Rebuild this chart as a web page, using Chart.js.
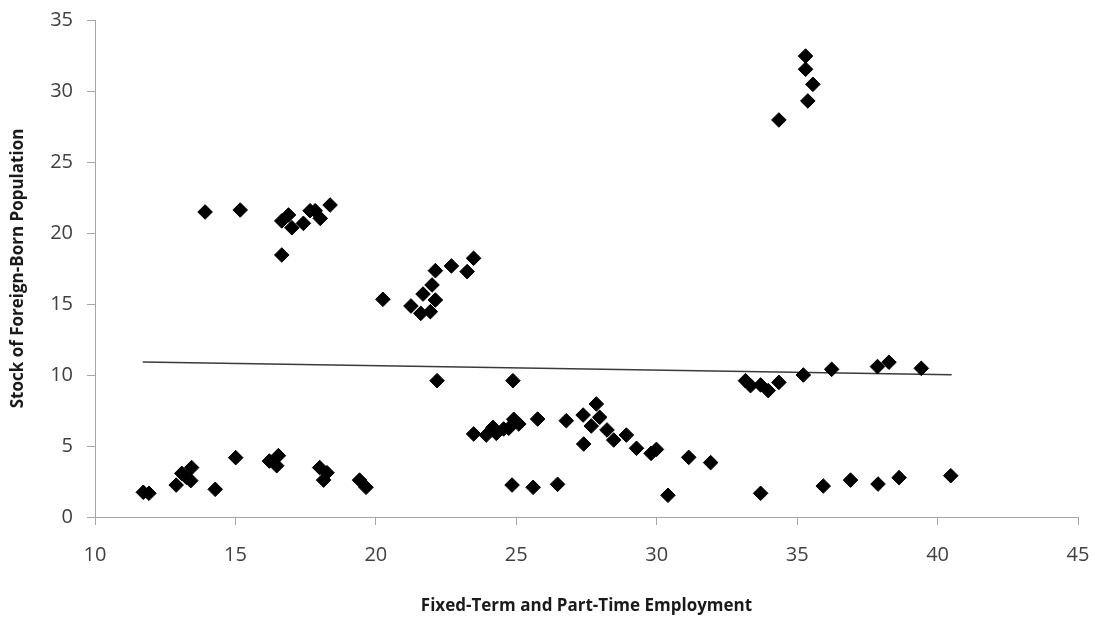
<!DOCTYPE html>
<html>
<head>
<meta charset="utf-8">
<script src="https://cdn.jsdelivr.net/npm/chart.js@4/dist/chart.umd.min.js"></script>
<style>
html,body{margin:0;padding:0;background:#fff;}
#wrap{width:1095px;height:619px;position:relative;}
</style>
</head>
<body>
<div id="wrap"><canvas id="c" width="1095" height="619"></canvas></div>
<script>
const xValues = [
  11.72,11.92,12.89,13.09,13.25,13.44,13.41,14.28,15.01,16.21,16.53,16.47,18.0,18.26,18.14,19.42,19.65,
  13.92,15.17,16.65,16.89,17.01,17.42,17.66,17.84,18.02,18.37,16.65,
  20.25,21.25,21.6,21.94,22.12,21.68,22.0,22.12,22.69,23.25,23.48,
  22.18,24.88,
  23.48,23.93,24.17,24.29,24.55,24.73,24.91,25.09,25.76,26.78,27.38,27.85,27.97,27.67,28.23,28.47,28.92,29.28,29.8,29.99,27.4,31.14,31.92,
  24.85,25.6,26.47,30.4,33.7,
  33.16,33.34,33.7,33.97,34.35,35.22,36.23,37.86,38.27,39.42,
  35.93,36.9,37.88,38.63,40.47,
  35.3,35.3,35.56,35.38,34.35
];
const yValues = [
  1.74,1.67,2.25,3.07,2.8,3.48,2.56,1.95,4.18,3.94,4.32,3.61,3.48,3.12,2.6,2.6,2.09,
  21.48,21.62,20.85,21.27,20.37,20.68,21.57,21.57,21.03,21.97,18.45,
  15.33,14.86,14.34,14.46,15.28,15.7,16.34,17.35,17.68,17.28,18.22,
  9.6,9.6,
  5.85,5.77,6.31,5.89,6.2,6.25,6.88,6.55,6.9,6.78,7.18,7.96,7.02,6.41,6.13,5.42,5.77,4.84,4.48,4.76,5.14,4.2,3.83,
  2.25,2.09,2.3,1.53,1.67,
  9.6,9.25,9.3,8.9,9.48,10.0,10.4,10.59,10.9,10.47,
  2.18,2.6,2.32,2.77,2.91,
  32.46,31.53,30.47,29.3,27.96
];
const trendX = [11.7, 40.5];
const trendY = [10.92, 10.02];
const xTicks = [10,15,20,25,30,35,40,45];
const yTicks = [0,5,10,15,20,25,30,35];
const xTitle = 'Fixed-Term and Part-Time Employment';
const yTitle = 'Stock of Foreign-Born Population';

const points = xValues.map((x,i)=>({x:x,y:yValues[i]}));
const trend = trendX.map((x,i)=>({x:x,y:trendY[i]}));

const axisColor = '#a6a6a6';
const tickFont = {family:'"Open Sans", sans-serif', size:20};
const titleFont = {family:'"Open Sans", sans-serif', size:17, weight:'bold'};

new Chart(document.getElementById('c'), {
  type: 'scatter',
  data: {
    datasets: [
      {
        type:'line',
        data: trend,
        borderColor:'#3a3a3a',
        borderWidth:1.5,
        pointRadius:0,
        fill:false,
        order:2
      },
      {
        data: points,
        pointStyle:'rectRot',
        pointRadius:7.3,
        pointBackgroundColor:'#000',
        pointBorderColor:'#000',
        pointBorderWidth:1,
        order:1
      }
    ]
  },
  options: {
    responsive:false,
    animation:false,
    devicePixelRatio:1,
    layout:{padding:{top:20,right:17,left:0,bottom:0}},
    plugins:{legend:{display:false},tooltip:{enabled:false}},
    scales:{
      x:{
        type:'linear',
        min:10,max:45,
        afterBuildTicks:(s)=>{s.ticks = xTicks.map(v=>({value:v}));},
        afterFit:(s)=>{s.height = 102; s.paddingLeft = 0; s.paddingRight = 0;},
        grid:{drawOnChartArea:false,drawTicks:true,tickLength:8,color:axisColor},
        border:{color:axisColor,width:1},
        ticks:{color:'#404040',font:tickFont,padding:18,maxRotation:0},
        title:{display:true,text:xTitle,color:'#1a1a1a',font:titleFont,padding:{top:0,bottom:3}}
      },
      y:{
        type:'linear',
        min:0,max:35,
        afterBuildTicks:(s)=>{s.ticks = yTicks.map(v=>({value:v}));},
        afterFit:(s)=>{s.width = 95; s.paddingTop = 0; s.paddingBottom = 0;},
        grid:{drawOnChartArea:false,drawTicks:true,tickLength:8,color:axisColor},
        border:{color:axisColor,width:1},
        ticks:{color:'#404040',font:tickFont,padding:14},
        title:{display:true,text:yTitle,color:'#1a1a1a',font:titleFont,padding:{top:8,bottom:0}}
      }
    }
  }
});
</script>
</body>
</html>
